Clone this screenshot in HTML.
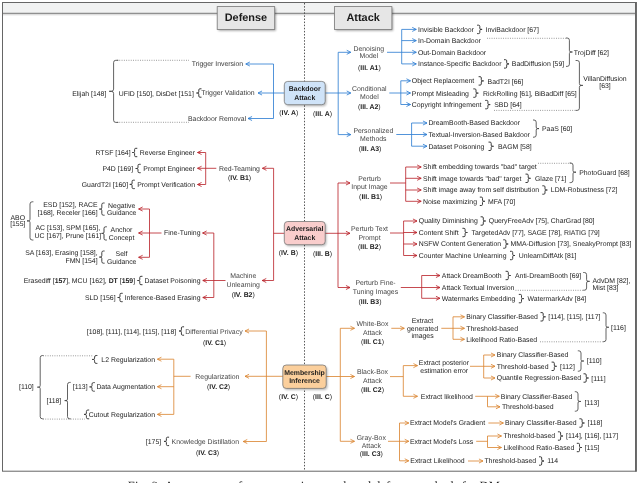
<!DOCTYPE html>
<html lang="en"><head><meta charset="utf-8"><title>Taxonomy of attack and defense methods</title>
<style>
html,body{margin:0;padding:0;background:#fff;overflow:hidden}
body{width:640px;height:483px}
svg{display:block;text-rendering:geometricPrecision;font-family:"Liberation Sans",Arial,Helvetica,sans-serif;font-size:6.9px;fill:#222222}
</style></head><body>
<svg width="640" height="483" viewBox="0 0 640 483">
<defs><filter id="bl" x="-20%" y="-20%" width="140%" height="140%"><feGaussianBlur stdDeviation="0.9"/></filter></defs>
<rect width="640" height="483" fill="#fff"/>
<rect x="2.5" y="2.5" width="633" height="468.7" fill="#fff" stroke="#666" stroke-width="1"/>
<rect x="3" y="3" width="632" height="10" fill="#f1f2f2"/>
<rect x="3" y="13.8" width="632" height="1.6" fill="#000" opacity="0.13"/>
<path d="M2.5 13.3H635.5" stroke="#666" stroke-width="0.9"/>
<path d="M636.1 2V471.7" stroke="#666" stroke-width="1.7"/>
<path d="M304.5 3V471" stroke="#444" stroke-width="0.9" stroke-dasharray="1.5 1.6"/>
<rect x="218.40" y="8.00" width="57.50" height="22.80" fill="#000" opacity="0.35" filter="url(#bl)"/>
<rect x="217.20" y="6.6" width="57.50" height="22.8" fill="#e6e6e6" stroke="#777" stroke-width="0.8"/>
<text x="245.95" y="21.12" text-anchor="middle" font-weight="700" font-size="10.90" fill="#1a1a1a">Defense</text>
<rect x="335.60" y="8.00" width="57.50" height="22.80" fill="#000" opacity="0.35" filter="url(#bl)"/>
<rect x="334.40" y="6.6" width="57.50" height="22.8" fill="#e6e6e6" stroke="#777" stroke-width="0.8"/>
<text x="363.15" y="21.12" text-anchor="middle" font-weight="700" font-size="10.90" fill="#1a1a1a">Attack</text>
<path d="M284.50 93.00 L273.50 93.00" fill="none" stroke="#2678d0" stroke-width="0.80" stroke-linejoin="round"/>
<path d="M273.50 64.00 L273.50 118.50" fill="none" stroke="#2678d0" stroke-width="0.80" stroke-linejoin="round"/>
<path d="M273.50 64.00 L245.80 64.00" fill="none" stroke="#2678d0" stroke-width="0.80" stroke-linejoin="round"/>
<path d="M249.50 62.15 L245.80 64.00 L249.50 65.85" fill="none" stroke="#2678d0" stroke-width="0.80" stroke-linecap="round" stroke-linejoin="miter"/>
<path d="M273.50 93.00 L258.00 93.00" fill="none" stroke="#2678d0" stroke-width="0.80" stroke-linejoin="round"/>
<path d="M261.70 91.15 L258.00 93.00 L261.70 94.85" fill="none" stroke="#2678d0" stroke-width="0.80" stroke-linecap="round" stroke-linejoin="miter"/>
<path d="M273.50 118.50 L248.00 118.50" fill="none" stroke="#2678d0" stroke-width="0.80" stroke-linejoin="round"/>
<path d="M251.70 116.65 L248.00 118.50 L251.70 120.35" fill="none" stroke="#2678d0" stroke-width="0.80" stroke-linecap="round" stroke-linejoin="miter"/>
<path d="M325.00 93.00 L338.20 93.00" fill="none" stroke="#2678d0" stroke-width="0.80" stroke-linejoin="round"/>
<path d="M338.20 52.30 L338.20 134.60" fill="none" stroke="#2678d0" stroke-width="0.80" stroke-linejoin="round"/>
<path d="M338.20 52.30 L350.80 52.30" fill="none" stroke="#2678d0" stroke-width="0.80" stroke-linejoin="round"/>
<path d="M347.10 50.45 L350.80 52.30 L347.10 54.15" fill="none" stroke="#2678d0" stroke-width="0.80" stroke-linecap="round" stroke-linejoin="miter"/>
<path d="M338.20 93.00 L350.80 93.00" fill="none" stroke="#2678d0" stroke-width="0.80" stroke-linejoin="round"/>
<path d="M347.10 91.15 L350.80 93.00 L347.10 94.85" fill="none" stroke="#2678d0" stroke-width="0.80" stroke-linecap="round" stroke-linejoin="miter"/>
<path d="M338.20 134.60 L350.80 134.60" fill="none" stroke="#2678d0" stroke-width="0.80" stroke-linejoin="round"/>
<path d="M347.10 132.75 L350.80 134.60 L347.10 136.45" fill="none" stroke="#2678d0" stroke-width="0.80" stroke-linecap="round" stroke-linejoin="miter"/>
<path d="M387.00 52.30 L401.70 52.30" fill="none" stroke="#2678d0" stroke-width="0.80" stroke-linejoin="round"/>
<path d="M401.70 29.40 L401.70 63.90" fill="none" stroke="#2678d0" stroke-width="0.80" stroke-linejoin="round"/>
<path d="M401.70 29.40 L416.30 29.40" fill="none" stroke="#2678d0" stroke-width="0.80" stroke-linejoin="round"/>
<path d="M412.60 27.55 L416.30 29.40 L412.60 31.25" fill="none" stroke="#2678d0" stroke-width="0.80" stroke-linecap="round" stroke-linejoin="miter"/>
<path d="M401.70 40.60 L416.30 40.60" fill="none" stroke="#2678d0" stroke-width="0.80" stroke-linejoin="round"/>
<path d="M412.60 38.75 L416.30 40.60 L412.60 42.45" fill="none" stroke="#2678d0" stroke-width="0.80" stroke-linecap="round" stroke-linejoin="miter"/>
<path d="M401.70 52.30 L416.30 52.30" fill="none" stroke="#2678d0" stroke-width="0.80" stroke-linejoin="round"/>
<path d="M412.60 50.45 L416.30 52.30 L412.60 54.15" fill="none" stroke="#2678d0" stroke-width="0.80" stroke-linecap="round" stroke-linejoin="miter"/>
<path d="M401.70 63.90 L416.30 63.90" fill="none" stroke="#2678d0" stroke-width="0.80" stroke-linejoin="round"/>
<path d="M412.60 62.05 L416.30 63.90 L412.60 65.75" fill="none" stroke="#2678d0" stroke-width="0.80" stroke-linecap="round" stroke-linejoin="miter"/>
<path d="M389.30 93.00 L400.80 93.00" fill="none" stroke="#2678d0" stroke-width="0.80" stroke-linejoin="round"/>
<path d="M400.80 80.80 L400.80 104.50" fill="none" stroke="#2678d0" stroke-width="0.80" stroke-linejoin="round"/>
<path d="M400.80 80.80 L410.50 80.80" fill="none" stroke="#2678d0" stroke-width="0.80" stroke-linejoin="round"/>
<path d="M406.80 78.95 L410.50 80.80 L406.80 82.65" fill="none" stroke="#2678d0" stroke-width="0.80" stroke-linecap="round" stroke-linejoin="miter"/>
<path d="M400.80 93.00 L410.50 93.00" fill="none" stroke="#2678d0" stroke-width="0.80" stroke-linejoin="round"/>
<path d="M406.80 91.15 L410.50 93.00 L406.80 94.85" fill="none" stroke="#2678d0" stroke-width="0.80" stroke-linecap="round" stroke-linejoin="miter"/>
<path d="M400.80 104.50 L410.50 104.50" fill="none" stroke="#2678d0" stroke-width="0.80" stroke-linejoin="round"/>
<path d="M406.80 102.65 L410.50 104.50 L406.80 106.35" fill="none" stroke="#2678d0" stroke-width="0.80" stroke-linecap="round" stroke-linejoin="miter"/>
<path d="M396.30 134.50 L411.60 134.50" fill="none" stroke="#2678d0" stroke-width="0.80" stroke-linejoin="round"/>
<path d="M411.60 123.00 L411.60 146.20" fill="none" stroke="#2678d0" stroke-width="0.80" stroke-linejoin="round"/>
<path d="M411.60 123.00 L427.00 123.00" fill="none" stroke="#2678d0" stroke-width="0.80" stroke-linejoin="round"/>
<path d="M423.30 121.15 L427.00 123.00 L423.30 124.85" fill="none" stroke="#2678d0" stroke-width="0.80" stroke-linecap="round" stroke-linejoin="miter"/>
<path d="M411.60 134.50 L427.00 134.50" fill="none" stroke="#2678d0" stroke-width="0.80" stroke-linejoin="round"/>
<path d="M423.30 132.65 L427.00 134.50 L423.30 136.35" fill="none" stroke="#2678d0" stroke-width="0.80" stroke-linecap="round" stroke-linejoin="miter"/>
<path d="M411.60 146.20 L427.00 146.20" fill="none" stroke="#2678d0" stroke-width="0.80" stroke-linejoin="round"/>
<path d="M423.30 144.35 L427.00 146.20 L423.30 148.05" fill="none" stroke="#2678d0" stroke-width="0.80" stroke-linecap="round" stroke-linejoin="miter"/>
<path d="M284.50 233.30 L273.60 233.30" fill="none" stroke="#b81d24" stroke-width="0.80" stroke-linejoin="round"/>
<path d="M273.60 168.30 L273.60 280.50" fill="none" stroke="#b81d24" stroke-width="0.80" stroke-linejoin="round"/>
<path d="M273.60 168.30 L262.40 168.30" fill="none" stroke="#b81d24" stroke-width="0.80" stroke-linejoin="round"/>
<path d="M266.10 166.45 L262.40 168.30 L266.10 170.15" fill="none" stroke="#b81d24" stroke-width="0.80" stroke-linecap="round" stroke-linejoin="miter"/>
<path d="M273.60 280.50 L262.20 280.50" fill="none" stroke="#b81d24" stroke-width="0.80" stroke-linejoin="round"/>
<path d="M265.90 278.65 L262.20 280.50 L265.90 282.35" fill="none" stroke="#b81d24" stroke-width="0.80" stroke-linecap="round" stroke-linejoin="miter"/>
<path d="M216.30 168.30 L205.70 168.30" fill="none" stroke="#b81d24" stroke-width="0.80" stroke-linejoin="round"/>
<path d="M205.70 152.50 L205.70 184.50" fill="none" stroke="#b81d24" stroke-width="0.80" stroke-linejoin="round"/>
<path d="M205.70 152.50 L197.50 152.50" fill="none" stroke="#b81d24" stroke-width="0.80" stroke-linejoin="round"/>
<path d="M201.20 150.65 L197.50 152.50 L201.20 154.35" fill="none" stroke="#b81d24" stroke-width="0.80" stroke-linecap="round" stroke-linejoin="miter"/>
<path d="M205.70 168.30 L197.50 168.30" fill="none" stroke="#b81d24" stroke-width="0.80" stroke-linejoin="round"/>
<path d="M201.20 166.45 L197.50 168.30 L201.20 170.15" fill="none" stroke="#b81d24" stroke-width="0.80" stroke-linecap="round" stroke-linejoin="miter"/>
<path d="M205.70 184.50 L197.50 184.50" fill="none" stroke="#b81d24" stroke-width="0.80" stroke-linejoin="round"/>
<path d="M201.20 182.65 L197.50 184.50 L201.20 186.35" fill="none" stroke="#b81d24" stroke-width="0.80" stroke-linecap="round" stroke-linejoin="miter"/>
<path d="M225.50 280.50 L213.80 280.50" fill="none" stroke="#b81d24" stroke-width="0.80" stroke-linejoin="round"/>
<path d="M213.80 233.00 L213.80 297.50" fill="none" stroke="#b81d24" stroke-width="0.80" stroke-linejoin="round"/>
<path d="M213.80 233.00 L202.60 233.00" fill="none" stroke="#b81d24" stroke-width="0.80" stroke-linejoin="round"/>
<path d="M206.30 231.15 L202.60 233.00 L206.30 234.85" fill="none" stroke="#b81d24" stroke-width="0.80" stroke-linecap="round" stroke-linejoin="miter"/>
<path d="M213.80 280.50 L202.80 280.50" fill="none" stroke="#b81d24" stroke-width="0.80" stroke-linejoin="round"/>
<path d="M206.50 278.65 L202.80 280.50 L206.50 282.35" fill="none" stroke="#b81d24" stroke-width="0.80" stroke-linecap="round" stroke-linejoin="miter"/>
<path d="M213.80 297.50 L202.80 297.50" fill="none" stroke="#b81d24" stroke-width="0.80" stroke-linejoin="round"/>
<path d="M206.50 295.65 L202.80 297.50 L206.50 299.35" fill="none" stroke="#b81d24" stroke-width="0.80" stroke-linecap="round" stroke-linejoin="miter"/>
<path d="M161.50 233.00 L149.50 233.00" fill="none" stroke="#b81d24" stroke-width="0.80" stroke-linejoin="round"/>
<path d="M149.50 209.00 L149.50 257.30" fill="none" stroke="#b81d24" stroke-width="0.80" stroke-linejoin="round"/>
<path d="M149.50 209.00 L138.60 209.00" fill="none" stroke="#b81d24" stroke-width="0.80" stroke-linejoin="round"/>
<path d="M142.30 207.15 L138.60 209.00 L142.30 210.85" fill="none" stroke="#b81d24" stroke-width="0.80" stroke-linecap="round" stroke-linejoin="miter"/>
<path d="M149.50 233.00 L138.60 233.00" fill="none" stroke="#b81d24" stroke-width="0.80" stroke-linejoin="round"/>
<path d="M142.30 231.15 L138.60 233.00 L142.30 234.85" fill="none" stroke="#b81d24" stroke-width="0.80" stroke-linecap="round" stroke-linejoin="miter"/>
<path d="M149.50 257.30 L138.60 257.30" fill="none" stroke="#b81d24" stroke-width="0.80" stroke-linejoin="round"/>
<path d="M142.30 255.45 L138.60 257.30 L142.30 259.15" fill="none" stroke="#b81d24" stroke-width="0.80" stroke-linecap="round" stroke-linejoin="miter"/>
<path d="M325.00 233.30 L338.00 233.30" fill="none" stroke="#b81d24" stroke-width="0.80" stroke-linejoin="round"/>
<path d="M338.00 183.00 L338.00 287.50" fill="none" stroke="#b81d24" stroke-width="0.80" stroke-linejoin="round"/>
<path d="M338.00 183.00 L350.00 183.00" fill="none" stroke="#b81d24" stroke-width="0.80" stroke-linejoin="round"/>
<path d="M346.30 181.15 L350.00 183.00 L346.30 184.85" fill="none" stroke="#b81d24" stroke-width="0.80" stroke-linecap="round" stroke-linejoin="miter"/>
<path d="M338.00 233.30 L350.00 233.30" fill="none" stroke="#b81d24" stroke-width="0.80" stroke-linejoin="round"/>
<path d="M346.30 231.45 L350.00 233.30 L346.30 235.15" fill="none" stroke="#b81d24" stroke-width="0.80" stroke-linecap="round" stroke-linejoin="miter"/>
<path d="M338.00 287.50 L350.00 287.50" fill="none" stroke="#b81d24" stroke-width="0.80" stroke-linejoin="round"/>
<path d="M346.30 285.65 L350.00 287.50 L346.30 289.35" fill="none" stroke="#b81d24" stroke-width="0.80" stroke-linecap="round" stroke-linejoin="miter"/>
<path d="M390.00 183.00 L405.70 183.00" fill="none" stroke="#b81d24" stroke-width="0.80" stroke-linejoin="round"/>
<path d="M405.70 167.00 L405.70 201.30" fill="none" stroke="#b81d24" stroke-width="0.80" stroke-linejoin="round"/>
<path d="M405.70 167.00 L421.20 167.00" fill="none" stroke="#b81d24" stroke-width="0.80" stroke-linejoin="round"/>
<path d="M417.50 165.15 L421.20 167.00 L417.50 168.85" fill="none" stroke="#b81d24" stroke-width="0.80" stroke-linecap="round" stroke-linejoin="miter"/>
<path d="M405.70 178.30 L421.20 178.30" fill="none" stroke="#b81d24" stroke-width="0.80" stroke-linejoin="round"/>
<path d="M417.50 176.45 L421.20 178.30 L417.50 180.15" fill="none" stroke="#b81d24" stroke-width="0.80" stroke-linecap="round" stroke-linejoin="miter"/>
<path d="M405.70 190.00 L421.20 190.00" fill="none" stroke="#b81d24" stroke-width="0.80" stroke-linejoin="round"/>
<path d="M417.50 188.15 L421.20 190.00 L417.50 191.85" fill="none" stroke="#b81d24" stroke-width="0.80" stroke-linecap="round" stroke-linejoin="miter"/>
<path d="M405.70 201.30 L421.20 201.30" fill="none" stroke="#b81d24" stroke-width="0.80" stroke-linejoin="round"/>
<path d="M417.50 199.45 L421.20 201.30 L417.50 203.15" fill="none" stroke="#b81d24" stroke-width="0.80" stroke-linecap="round" stroke-linejoin="miter"/>
<path d="M390.00 233.00 L403.60 233.00" fill="none" stroke="#b81d24" stroke-width="0.80" stroke-linejoin="round"/>
<path d="M403.60 221.00 L403.60 255.50" fill="none" stroke="#b81d24" stroke-width="0.80" stroke-linejoin="round"/>
<path d="M403.60 221.00 L417.00 221.00" fill="none" stroke="#b81d24" stroke-width="0.80" stroke-linejoin="round"/>
<path d="M413.30 219.15 L417.00 221.00 L413.30 222.85" fill="none" stroke="#b81d24" stroke-width="0.80" stroke-linecap="round" stroke-linejoin="miter"/>
<path d="M403.60 232.50 L417.00 232.50" fill="none" stroke="#b81d24" stroke-width="0.80" stroke-linejoin="round"/>
<path d="M413.30 230.65 L417.00 232.50 L413.30 234.35" fill="none" stroke="#b81d24" stroke-width="0.80" stroke-linecap="round" stroke-linejoin="miter"/>
<path d="M403.60 244.00 L417.00 244.00" fill="none" stroke="#b81d24" stroke-width="0.80" stroke-linejoin="round"/>
<path d="M413.30 242.15 L417.00 244.00 L413.30 245.85" fill="none" stroke="#b81d24" stroke-width="0.80" stroke-linecap="round" stroke-linejoin="miter"/>
<path d="M403.60 255.50 L417.00 255.50" fill="none" stroke="#b81d24" stroke-width="0.80" stroke-linejoin="round"/>
<path d="M413.30 253.65 L417.00 255.50 L413.30 257.35" fill="none" stroke="#b81d24" stroke-width="0.80" stroke-linecap="round" stroke-linejoin="miter"/>
<path d="M400.80 287.50 L421.70 287.50" fill="none" stroke="#b81d24" stroke-width="0.80" stroke-linejoin="round"/>
<path d="M421.70 275.50 L421.70 298.30" fill="none" stroke="#b81d24" stroke-width="0.80" stroke-linejoin="round"/>
<path d="M421.70 275.50 L440.00 275.50" fill="none" stroke="#b81d24" stroke-width="0.80" stroke-linejoin="round"/>
<path d="M436.30 273.65 L440.00 275.50 L436.30 277.35" fill="none" stroke="#b81d24" stroke-width="0.80" stroke-linecap="round" stroke-linejoin="miter"/>
<path d="M421.70 287.50 L440.00 287.50" fill="none" stroke="#b81d24" stroke-width="0.80" stroke-linejoin="round"/>
<path d="M436.30 285.65 L440.00 287.50 L436.30 289.35" fill="none" stroke="#b81d24" stroke-width="0.80" stroke-linecap="round" stroke-linejoin="miter"/>
<path d="M421.70 298.30 L440.00 298.30" fill="none" stroke="#b81d24" stroke-width="0.80" stroke-linejoin="round"/>
<path d="M436.30 296.45 L440.00 298.30 L436.30 300.15" fill="none" stroke="#b81d24" stroke-width="0.80" stroke-linecap="round" stroke-linejoin="miter"/>
<path d="M283.00 376.30 L266.40 376.30" fill="none" stroke="#d9822b" stroke-width="0.80" stroke-linejoin="round"/>
<path d="M266.40 331.00 L266.40 441.50" fill="none" stroke="#d9822b" stroke-width="0.80" stroke-linejoin="round"/>
<path d="M266.40 331.00 L245.00 331.00" fill="none" stroke="#d9822b" stroke-width="0.80" stroke-linejoin="round"/>
<path d="M248.70 329.15 L245.00 331.00 L248.70 332.85" fill="none" stroke="#d9822b" stroke-width="0.80" stroke-linecap="round" stroke-linejoin="miter"/>
<path d="M266.40 376.30 L245.00 376.30" fill="none" stroke="#d9822b" stroke-width="0.80" stroke-linejoin="round"/>
<path d="M248.70 374.45 L245.00 376.30 L248.70 378.15" fill="none" stroke="#d9822b" stroke-width="0.80" stroke-linecap="round" stroke-linejoin="miter"/>
<path d="M266.40 441.50 L243.20 441.50" fill="none" stroke="#d9822b" stroke-width="0.80" stroke-linejoin="round"/>
<path d="M246.90 439.65 L243.20 441.50 L246.90 443.35" fill="none" stroke="#d9822b" stroke-width="0.80" stroke-linecap="round" stroke-linejoin="miter"/>
<path d="M190.60 376.30 L173.80 376.30" fill="none" stroke="#d9822b" stroke-width="0.80" stroke-linejoin="round"/>
<path d="M173.80 359.20 L173.80 414.40" fill="none" stroke="#d9822b" stroke-width="0.80" stroke-linejoin="round"/>
<path d="M173.80 359.20 L157.40 359.20" fill="none" stroke="#d9822b" stroke-width="0.80" stroke-linejoin="round"/>
<path d="M161.10 357.35 L157.40 359.20 L161.10 361.05" fill="none" stroke="#d9822b" stroke-width="0.80" stroke-linecap="round" stroke-linejoin="miter"/>
<path d="M173.80 386.70 L157.40 386.70" fill="none" stroke="#d9822b" stroke-width="0.80" stroke-linejoin="round"/>
<path d="M161.10 384.85 L157.40 386.70 L161.10 388.55" fill="none" stroke="#d9822b" stroke-width="0.80" stroke-linecap="round" stroke-linejoin="miter"/>
<path d="M173.80 414.40 L157.40 414.40" fill="none" stroke="#d9822b" stroke-width="0.80" stroke-linejoin="round"/>
<path d="M161.10 412.55 L157.40 414.40 L161.10 416.25" fill="none" stroke="#d9822b" stroke-width="0.80" stroke-linecap="round" stroke-linejoin="miter"/>
<path d="M326.00 376.50 L340.30 376.50" fill="none" stroke="#d9822b" stroke-width="0.80" stroke-linejoin="round"/>
<path d="M340.30 328.30 L340.30 441.30" fill="none" stroke="#d9822b" stroke-width="0.80" stroke-linejoin="round"/>
<path d="M340.30 328.30 L354.50 328.30" fill="none" stroke="#d9822b" stroke-width="0.80" stroke-linejoin="round"/>
<path d="M350.80 326.45 L354.50 328.30 L350.80 330.15" fill="none" stroke="#d9822b" stroke-width="0.80" stroke-linecap="round" stroke-linejoin="miter"/>
<path d="M340.30 376.50 L354.50 376.50" fill="none" stroke="#d9822b" stroke-width="0.80" stroke-linejoin="round"/>
<path d="M350.80 374.65 L354.50 376.50 L350.80 378.35" fill="none" stroke="#d9822b" stroke-width="0.80" stroke-linecap="round" stroke-linejoin="miter"/>
<path d="M340.30 441.30 L354.50 441.30" fill="none" stroke="#d9822b" stroke-width="0.80" stroke-linejoin="round"/>
<path d="M350.80 439.45 L354.50 441.30 L350.80 443.15" fill="none" stroke="#d9822b" stroke-width="0.80" stroke-linecap="round" stroke-linejoin="miter"/>
<path d="M391.30 328.30 L404.30 328.30" fill="none" stroke="#d9822b" stroke-width="0.80" stroke-linejoin="round"/>
<path d="M400.60 326.45 L404.30 328.30 L400.60 330.15" fill="none" stroke="#d9822b" stroke-width="0.80" stroke-linecap="round" stroke-linejoin="miter"/>
<path d="M441.30 328.30 L453.00 328.30" fill="none" stroke="#d9822b" stroke-width="0.80" stroke-linejoin="round"/>
<path d="M453.00 316.80 L453.00 339.30" fill="none" stroke="#d9822b" stroke-width="0.80" stroke-linejoin="round"/>
<path d="M453.00 316.80 L464.50 316.80" fill="none" stroke="#d9822b" stroke-width="0.80" stroke-linejoin="round"/>
<path d="M460.80 314.95 L464.50 316.80 L460.80 318.65" fill="none" stroke="#d9822b" stroke-width="0.80" stroke-linecap="round" stroke-linejoin="miter"/>
<path d="M453.00 328.30 L464.50 328.30" fill="none" stroke="#d9822b" stroke-width="0.80" stroke-linejoin="round"/>
<path d="M460.80 326.45 L464.50 328.30 L460.80 330.15" fill="none" stroke="#d9822b" stroke-width="0.80" stroke-linecap="round" stroke-linejoin="miter"/>
<path d="M453.00 339.30 L464.50 339.30" fill="none" stroke="#d9822b" stroke-width="0.80" stroke-linejoin="round"/>
<path d="M460.80 337.45 L464.50 339.30 L460.80 341.15" fill="none" stroke="#d9822b" stroke-width="0.80" stroke-linecap="round" stroke-linejoin="miter"/>
<path d="M390.00 376.60 L403.30 376.60" fill="none" stroke="#d9822b" stroke-width="0.80" stroke-linejoin="round"/>
<path d="M403.30 365.60 L403.30 396.30" fill="none" stroke="#d9822b" stroke-width="0.80" stroke-linejoin="round"/>
<path d="M403.30 365.60 L417.50 365.60" fill="none" stroke="#d9822b" stroke-width="0.80" stroke-linejoin="round"/>
<path d="M413.80 363.75 L417.50 365.60 L413.80 367.45" fill="none" stroke="#d9822b" stroke-width="0.80" stroke-linecap="round" stroke-linejoin="miter"/>
<path d="M403.30 396.30 L417.50 396.30" fill="none" stroke="#d9822b" stroke-width="0.80" stroke-linejoin="round"/>
<path d="M413.80 394.45 L417.50 396.30 L413.80 398.15" fill="none" stroke="#d9822b" stroke-width="0.80" stroke-linecap="round" stroke-linejoin="miter"/>
<path d="M470.00 366.30 L483.70 366.30" fill="none" stroke="#d9822b" stroke-width="0.80" stroke-linejoin="round"/>
<path d="M483.70 355.00 L483.70 378.00" fill="none" stroke="#d9822b" stroke-width="0.80" stroke-linejoin="round"/>
<path d="M483.70 355.00 L495.00 355.00" fill="none" stroke="#d9822b" stroke-width="0.80" stroke-linejoin="round"/>
<path d="M491.30 353.15 L495.00 355.00 L491.30 356.85" fill="none" stroke="#d9822b" stroke-width="0.80" stroke-linecap="round" stroke-linejoin="miter"/>
<path d="M483.70 366.30 L495.00 366.30" fill="none" stroke="#d9822b" stroke-width="0.80" stroke-linejoin="round"/>
<path d="M491.30 364.45 L495.00 366.30 L491.30 368.15" fill="none" stroke="#d9822b" stroke-width="0.80" stroke-linecap="round" stroke-linejoin="miter"/>
<path d="M483.70 378.00 L495.00 378.00" fill="none" stroke="#d9822b" stroke-width="0.80" stroke-linejoin="round"/>
<path d="M491.30 376.15 L495.00 378.00 L491.30 379.85" fill="none" stroke="#d9822b" stroke-width="0.80" stroke-linecap="round" stroke-linejoin="miter"/>
<path d="M475.20 396.30 L499.30 396.30" fill="none" stroke="#d9822b" stroke-width="0.80" stroke-linejoin="round"/>
<path d="M495.60 394.45 L499.30 396.30 L495.60 398.15" fill="none" stroke="#d9822b" stroke-width="0.80" stroke-linecap="round" stroke-linejoin="miter"/>
<path d="M487.50 396.30 L487.50 406.80" fill="none" stroke="#d9822b" stroke-width="0.80" stroke-linejoin="round"/>
<path d="M487.50 406.80 L500.00 406.80" fill="none" stroke="#d9822b" stroke-width="0.80" stroke-linejoin="round"/>
<path d="M496.30 404.95 L500.00 406.80 L496.30 408.65" fill="none" stroke="#d9822b" stroke-width="0.80" stroke-linecap="round" stroke-linejoin="miter"/>
<path d="M388.00 441.30 L399.50 441.30" fill="none" stroke="#d9822b" stroke-width="0.80" stroke-linejoin="round"/>
<path d="M399.50 423.00 L399.50 460.80" fill="none" stroke="#d9822b" stroke-width="0.80" stroke-linejoin="round"/>
<path d="M399.50 423.00 L408.80 423.00" fill="none" stroke="#d9822b" stroke-width="0.80" stroke-linejoin="round"/>
<path d="M405.10 421.15 L408.80 423.00 L405.10 424.85" fill="none" stroke="#d9822b" stroke-width="0.80" stroke-linecap="round" stroke-linejoin="miter"/>
<path d="M399.50 441.30 L408.80 441.30" fill="none" stroke="#d9822b" stroke-width="0.80" stroke-linejoin="round"/>
<path d="M405.10 439.45 L408.80 441.30 L405.10 443.15" fill="none" stroke="#d9822b" stroke-width="0.80" stroke-linecap="round" stroke-linejoin="miter"/>
<path d="M399.50 460.80 L408.80 460.80" fill="none" stroke="#d9822b" stroke-width="0.80" stroke-linejoin="round"/>
<path d="M405.10 458.95 L408.80 460.80 L405.10 462.65" fill="none" stroke="#d9822b" stroke-width="0.80" stroke-linecap="round" stroke-linejoin="miter"/>
<path d="M488.40 423.00 L503.40 423.00" fill="none" stroke="#d9822b" stroke-width="0.80" stroke-linejoin="round"/>
<path d="M499.70 421.15 L503.40 423.00 L499.70 424.85" fill="none" stroke="#d9822b" stroke-width="0.80" stroke-linecap="round" stroke-linejoin="miter"/>
<path d="M476.20 441.30 L487.50 441.30" fill="none" stroke="#d9822b" stroke-width="0.80" stroke-linejoin="round"/>
<path d="M487.50 436.00 L487.50 447.50" fill="none" stroke="#d9822b" stroke-width="0.80" stroke-linejoin="round"/>
<path d="M487.50 436.00 L501.50 436.00" fill="none" stroke="#d9822b" stroke-width="0.80" stroke-linejoin="round"/>
<path d="M497.80 434.15 L501.50 436.00 L497.80 437.85" fill="none" stroke="#d9822b" stroke-width="0.80" stroke-linecap="round" stroke-linejoin="miter"/>
<path d="M487.50 447.50 L501.50 447.50" fill="none" stroke="#d9822b" stroke-width="0.80" stroke-linejoin="round"/>
<path d="M497.80 445.65 L501.50 447.50 L497.80 449.35" fill="none" stroke="#d9822b" stroke-width="0.80" stroke-linecap="round" stroke-linejoin="miter"/>
<path d="M468.00 461.00 L483.00 461.00" fill="none" stroke="#d9822b" stroke-width="0.80" stroke-linejoin="round"/>
<path d="M479.30 459.15 L483.00 461.00 L479.30 462.85" fill="none" stroke="#d9822b" stroke-width="0.80" stroke-linecap="round" stroke-linejoin="miter"/>
<rect x="285.60" y="82.90" width="40.90" height="23.30" rx="3.4" fill="#000" opacity="0.28" filter="url(#bl)"/>
<rect x="284.30" y="81.40" width="40.90" height="23.30" rx="3.4" fill="#cfe3f8" stroke="#777" stroke-width="0.8"/>
<text x="304.75" y="90.93" text-anchor="middle" font-weight="700" fill="#1c1c1c">Backdoor</text>
<text x="304.75" y="99.53" text-anchor="middle" font-weight="700" fill="#1c1c1c">Attack</text>
<rect x="285.60" y="223.00" width="40.90" height="23.20" rx="3.4" fill="#000" opacity="0.28" filter="url(#bl)"/>
<rect x="284.30" y="221.50" width="40.90" height="23.20" rx="3.4" fill="#f9cdcc" stroke="#777" stroke-width="0.8"/>
<text x="304.75" y="230.98" text-anchor="middle" font-weight="700" fill="#1c1c1c">Adversarial</text>
<text x="304.75" y="239.58" text-anchor="middle" font-weight="700" fill="#1c1c1c">Attack</text>
<rect x="284.10" y="366.50" width="43.40" height="23.40" rx="3.4" fill="#000" opacity="0.28" filter="url(#bl)"/>
<rect x="282.80" y="365.00" width="43.40" height="23.40" rx="3.4" fill="#fbcf9c" stroke="#777" stroke-width="0.8"/>
<text x="304.50" y="374.58" text-anchor="middle" font-weight="700" fill="#1c1c1c">Membership</text>
<text x="304.50" y="383.18" text-anchor="middle" font-weight="700" fill="#1c1c1c">Inference</text>
<text x="288.80" y="115.28" text-anchor="middle">(<tspan font-weight="700">IV. A</tspan>)</text>
<text x="322.50" y="115.98" text-anchor="middle">(<tspan font-weight="700">III. A</tspan>)</text>
<text x="288.30" y="254.98" text-anchor="middle">(<tspan font-weight="700">IV. B</tspan>)</text>
<text x="322.50" y="255.68" text-anchor="middle">(<tspan font-weight="700">III. B</tspan>)</text>
<text x="288.50" y="398.68" text-anchor="middle">(<tspan font-weight="700">IV. C</tspan>)</text>
<text x="322.40" y="399.28" text-anchor="middle">(<tspan font-weight="700">III. C</tspan>)</text>
<text x="243.20" y="65.98" text-anchor="end" fill="#383838">Trigger Inversion</text>
<text x="254.60" y="95.08" text-anchor="end" fill="#383838">Trigger Validation</text>
<text x="246.20" y="120.78" text-anchor="end" fill="#383838">Backdoor Removal</text>
<text x="193.80" y="95.58" text-anchor="end">UFID [150], DisDet [151]</text>
<path d="M201.10 88.80 L199.95 88.80 Q198.80 88.80 198.80 89.95 L198.80 91.85 Q198.80 93.00 197.65 93.00 L196.50 93.00 L197.65 93.00 Q198.80 93.00 198.80 94.15 L198.80 96.05 Q198.80 97.20 199.95 97.20 L201.10 97.20" fill="none" stroke="#3a3a3a" stroke-width="1.00" stroke-linecap="round"/>
<text x="106.30" y="95.68" text-anchor="end">Elijah [148]</text>
<path d="M118.00 60.30 L115.80 60.30 Q113.60 60.30 113.60 62.50 L113.60 89.10 Q113.60 91.30 111.40 91.30 L109.20 91.30 L111.40 91.30 Q113.60 91.30 113.60 93.50 L113.60 120.20 Q113.60 122.40 115.80 122.40 L118.00 122.40" fill="none" stroke="#3a3a3a" stroke-width="0.80" stroke-linecap="round"/>
<path d="M117.00 60.30H189.00" fill="none" stroke="#555" stroke-width="0.65" stroke-dasharray="0.9 1.4"/>
<path d="M117.00 122.30H189.00" fill="none" stroke="#555" stroke-width="0.65" stroke-dasharray="0.9 1.4"/>
<text x="239.40" y="170.78" text-anchor="middle" fill="#333">Red-Teaming</text>
<text x="239.50" y="180.48" text-anchor="middle">(<tspan font-weight="700">IV. B1</tspan>)</text>
<text x="195.00" y="155.08" text-anchor="end">Reverse Engineer</text>
<text x="195.00" y="170.98" text-anchor="end">Prompt Engineer</text>
<text x="195.00" y="186.98" text-anchor="end">Prompt Verification</text>
<text x="130.60" y="155.08" text-anchor="end">RTSF [164]</text>
<path d="M136.90 148.30 L135.75 148.30 Q134.60 148.30 134.60 149.45 L134.60 151.35 Q134.60 152.50 133.45 152.50 L132.30 152.50 L133.45 152.50 Q134.60 152.50 134.60 153.65 L134.60 155.55 Q134.60 156.70 135.75 156.70 L136.90 156.70" fill="none" stroke="#3a3a3a" stroke-width="1.00" stroke-linecap="round"/>
<text x="133.10" y="171.08" text-anchor="end">P4D [169]</text>
<path d="M140.30 164.30 L139.15 164.30 Q138.00 164.30 138.00 165.45 L138.00 167.35 Q138.00 168.50 136.85 168.50 L135.70 168.50 L136.85 168.50 Q138.00 168.50 138.00 169.65 L138.00 171.55 Q138.00 172.70 139.15 172.70 L140.30 172.70" fill="none" stroke="#3a3a3a" stroke-width="1.00" stroke-linecap="round"/>
<text x="128.10" y="186.88" text-anchor="end">GuardT2I [160]</text>
<path d="M134.40 180.20 L133.25 180.20 Q132.10 180.20 132.10 181.35 L132.10 183.25 Q132.10 184.40 130.95 184.40 L129.80 184.40 L130.95 184.40 Q132.10 184.40 132.10 185.55 L132.10 187.45 Q132.10 188.60 133.25 188.60 L134.40 188.60" fill="none" stroke="#3a3a3a" stroke-width="1.00" stroke-linecap="round"/>
<text x="243.20" y="278.28" text-anchor="middle" fill="#454545">Machine</text>
<text x="243.20" y="286.68" text-anchor="middle" fill="#454545">Unlearning</text>
<text x="243.20" y="297.48" text-anchor="middle">(<tspan font-weight="700">IV. B2</tspan>)</text>
<text x="200.50" y="235.08" text-anchor="end">Fine-Tuning</text>
<text x="200.50" y="282.58" text-anchor="end">Dataset Poisoning</text>
<text x="200.50" y="300.08" text-anchor="end">Inference-Based Erasing</text>
<text x="121.70" y="208.08" text-anchor="middle">Negative</text>
<text x="121.70" y="215.08" text-anchor="middle">Guidance</text>
<text x="121.50" y="232.48" text-anchor="middle">Anchor</text>
<text x="121.50" y="239.68" text-anchor="middle">Concept</text>
<text x="121.50" y="256.28" text-anchor="middle">Self</text>
<text x="121.70" y="263.68" text-anchor="middle">Guidance</text>
<path d="M104.20 203.00 L103.40 203.00 Q101.80 203.00 101.80 204.60 L101.80 207.78 Q101.80 209.10 100.48 209.10 L99.40 209.10 L100.48 209.10 Q101.80 209.10 101.80 210.42 L101.80 213.60 Q101.80 215.20 103.40 215.20 L104.20 215.20" fill="none" stroke="#3a3a3a" stroke-width="0.95" stroke-linecap="round"/>
<path d="M106.40 226.80 L105.60 226.80 Q104.00 226.80 104.00 228.40 L104.00 232.08 Q104.00 233.40 102.68 233.40 L101.60 233.40 L102.68 233.40 Q104.00 233.40 104.00 234.72 L104.00 238.40 Q104.00 240.00 105.60 240.00 L106.40 240.00" fill="none" stroke="#3a3a3a" stroke-width="0.95" stroke-linecap="round"/>
<path d="M104.20 251.00 L103.40 251.00 Q101.80 251.00 101.80 252.60 L101.80 255.78 Q101.80 257.10 100.48 257.10 L99.40 257.10 L100.48 257.10 Q101.80 257.10 101.80 258.42 L101.80 261.60 Q101.80 263.20 103.40 263.20 L104.20 263.20" fill="none" stroke="#3a3a3a" stroke-width="0.95" stroke-linecap="round"/>
<text x="97.60" y="207.08" text-anchor="end">ESD [152], RACE</text>
<text x="97.60" y="215.08" text-anchor="end">[168], Receler [166]</text>
<text x="100.20" y="230.08" text-anchor="end">AC [153], SPM [165],</text>
<text x="101.20" y="238.08" text-anchor="end">UC [167], Prune [161]</text>
<text x="97.60" y="255.18" text-anchor="end">SA [163], Erasing [158],</text>
<text x="97.60" y="263.28" text-anchor="end">FMN [154]</text>
<text x="17.80" y="219.58" text-anchor="middle">ABO</text>
<text x="17.80" y="226.38" text-anchor="middle">[155]</text>
<path d="M33.00 201.80 L32.20 201.80 Q30.00 201.80 30.00 204.00 L30.00 219.25 Q30.00 220.90 28.35 220.90 L27.00 220.90 L28.35 220.90 Q30.00 220.90 30.00 222.55 L30.00 237.80 Q30.00 240.00 32.20 240.00 L33.00 240.00" fill="none" stroke="#3a3a3a" stroke-width="0.80" stroke-linecap="round"/>
<text x="135.10" y="282.98" text-anchor="end">Erasediff [<tspan font-weight="700">157</tspan>], MCU [162], <tspan font-weight="700">DT</tspan> [<tspan font-weight="700">159</tspan>]</text>
<path d="M142.10 276.30 L140.95 276.30 Q139.80 276.30 139.80 277.45 L139.80 279.35 Q139.80 280.50 138.65 280.50 L137.50 280.50 L138.65 280.50 Q139.80 280.50 139.80 281.65 L139.80 283.55 Q139.80 284.70 140.95 284.70 L142.10 284.70" fill="none" stroke="#3a3a3a" stroke-width="1.00" stroke-linecap="round"/>
<text x="115.60" y="300.08" text-anchor="end">SLD [156]</text>
<path d="M122.30 293.30 L121.15 293.30 Q120.00 293.30 120.00 294.45 L120.00 296.35 Q120.00 297.50 118.85 297.50 L117.70 297.50 L118.85 297.50 Q120.00 297.50 120.00 298.65 L120.00 300.55 Q120.00 301.70 121.15 301.70 L122.30 301.70" fill="none" stroke="#3a3a3a" stroke-width="1.00" stroke-linecap="round"/>
<text x="242.60" y="333.58" text-anchor="end" fill="#454545">Differential Privacy</text>
<text x="214.50" y="345.18" text-anchor="middle">(<tspan font-weight="700">IV. C1</tspan>)</text>
<path d="M183.70 326.80 L182.55 326.80 Q181.40 326.80 181.40 327.95 L181.40 329.85 Q181.40 331.00 180.25 331.00 L179.10 331.00 L180.25 331.00 Q181.40 331.00 181.40 332.15 L181.40 334.05 Q181.40 335.20 182.55 335.20 L183.70 335.20" fill="none" stroke="#3a3a3a" stroke-width="1.00" stroke-linecap="round"/>
<text x="176.20" y="333.68" text-anchor="end">[108], [111], [114], [115], [118]</text>
<text x="217.40" y="378.58" text-anchor="middle" fill="#454545">Regularization</text>
<text x="218.60" y="389.18" text-anchor="middle">(<tspan font-weight="700">IV. C2</tspan>)</text>
<text x="239.00" y="443.88" text-anchor="end" fill="#454545">Knowledge Distillation</text>
<text x="207.50" y="454.98" text-anchor="middle">(<tspan font-weight="700">IV. C3</tspan>)</text>
<path d="M168.70 437.20 L167.55 437.20 Q166.40 437.20 166.40 438.35 L166.40 440.25 Q166.40 441.40 165.25 441.40 L164.10 441.40 L165.25 441.40 Q166.40 441.40 166.40 442.55 L166.40 444.45 Q166.40 445.60 167.55 445.60 L168.70 445.60" fill="none" stroke="#3a3a3a" stroke-width="1.00" stroke-linecap="round"/>
<text x="161.20" y="443.88" text-anchor="end">[175]</text>
<text x="155.00" y="361.78" text-anchor="end">L2 Regularization</text>
<text x="155.00" y="389.28" text-anchor="end">Data Augmentation</text>
<text x="155.00" y="416.78" text-anchor="end">Cutout Regularization</text>
<path d="M97.00 355.50 L96.10 355.50 Q94.60 355.50 94.60 357.00 L94.60 358.13 Q94.60 359.45 93.28 359.45 L92.20 359.45 L93.28 359.45 Q94.60 359.45 94.60 360.77 L94.60 361.90 Q94.60 363.40 96.10 363.40 L97.00 363.40" fill="none" stroke="#3a3a3a" stroke-width="0.95" stroke-linecap="round"/>
<path d="M94.40 382.60 L93.50 382.60 Q92.00 382.60 92.00 384.10 L92.00 385.58 Q92.00 386.90 90.68 386.90 L89.60 386.90 L90.68 386.90 Q92.00 386.90 92.00 388.22 L92.00 389.70 Q92.00 391.20 93.50 391.20 L94.40 391.20" fill="none" stroke="#3a3a3a" stroke-width="0.95" stroke-linecap="round"/>
<path d="M88.80 410.00 L87.90 410.00 Q86.40 410.00 86.40 411.50 L86.40 413.08 Q86.40 414.40 85.08 414.40 L84.00 414.40 L85.08 414.40 Q86.40 414.40 86.40 415.72 L86.40 417.30 Q86.40 418.80 87.90 418.80 L88.80 418.80" fill="none" stroke="#3a3a3a" stroke-width="0.95" stroke-linecap="round"/>
<text x="87.60" y="389.28" text-anchor="end">[113]</text>
<text x="61.30" y="402.58" text-anchor="end">[118]</text>
<path d="M70.30 382.40 L69.70 382.40 Q67.50 382.40 67.50 384.60 L67.50 399.06 Q67.50 400.60 65.96 400.60 L64.70 400.60 L65.96 400.60 Q67.50 400.60 67.50 402.14 L67.50 416.60 Q67.50 418.80 69.70 418.80 L70.30 418.80" fill="none" stroke="#3a3a3a" stroke-width="0.80" stroke-linecap="round"/>
<text x="33.80" y="389.28" text-anchor="end">[110]</text>
<path d="M43.00 355.50 L42.40 355.50 Q40.20 355.50 40.20 357.70 L40.20 385.61 Q40.20 387.15 38.66 387.15 L37.40 387.15 L38.66 387.15 Q40.20 387.15 40.20 388.69 L40.20 416.60 Q40.20 418.80 42.40 418.80 L43.00 418.80" fill="none" stroke="#3a3a3a" stroke-width="0.80" stroke-linecap="round"/>
<path d="M43.00 355.80H92.50" fill="none" stroke="#555" stroke-width="0.65" stroke-dasharray="0.9 1.4"/>
<path d="M43.00 419.10H85.00" fill="none" stroke="#555" stroke-width="0.65" stroke-dasharray="0.9 1.4"/>
<text x="368.80" y="50.78" text-anchor="middle" fill="#454545">Denoising</text>
<text x="368.80" y="58.28" text-anchor="middle" fill="#454545">Model</text>
<text x="369.40" y="69.68" text-anchor="middle">(<tspan font-weight="700">III. A1</tspan>)</text>
<text x="418.00" y="31.88">Invisible Backdoor</text>
<text x="418.00" y="43.08">In-Domain Backdoor</text>
<text x="418.00" y="54.78">Out-Domain Backdoor</text>
<text x="418.00" y="66.38">Instance-Specific Backdoor</text>
<path d="M477.50 25.20 L478.65 25.20 Q479.80 25.20 479.80 26.35 L479.80 28.25 Q479.80 29.40 480.95 29.40 L482.10 29.40 L480.95 29.40 Q479.80 29.40 479.80 30.55 L479.80 32.45 Q479.80 33.60 478.65 33.60 L477.50 33.60" fill="none" stroke="#3a3a3a" stroke-width="1.00" stroke-linecap="round"/>
<text x="485.60" y="31.88">InviBackdoor [67]</text>
<path d="M504.40 59.70 L505.55 59.70 Q506.70 59.70 506.70 60.85 L506.70 62.75 Q506.70 63.90 507.85 63.90 L509.00 63.90 L507.85 63.90 Q506.70 63.90 506.70 65.05 L506.70 66.95 Q506.70 68.10 505.55 68.10 L504.40 68.10" fill="none" stroke="#3a3a3a" stroke-width="1.00" stroke-linecap="round"/>
<text x="511.80" y="66.38">BadDiffusion [59]</text>
<path d="M487.00 38.30H567.00" fill="none" stroke="#555" stroke-width="0.65" stroke-dasharray="0.9 1.4"/>
<path d="M566.40 38.00 L567.20 38.00 Q569.40 38.00 569.40 40.20 L569.40 50.35 Q569.40 52.00 571.05 52.00 L572.40 52.00 L571.05 52.00 Q569.40 52.00 569.40 53.65 L569.40 64.20 Q569.40 66.40 567.20 66.40 L566.40 66.40" fill="none" stroke="#3a3a3a" stroke-width="0.80" stroke-linecap="round"/>
<text x="573.80" y="54.68">TrojDiff [62]</text>
<text x="369.30" y="91.28" text-anchor="middle" fill="#454545">Conditional</text>
<text x="369.30" y="98.78" text-anchor="middle" fill="#454545">Model</text>
<text x="369.30" y="109.48" text-anchor="middle">(<tspan font-weight="700">III. A2</tspan>)</text>
<text x="411.80" y="83.38">Object Replacement</text>
<text x="411.80" y="95.58">Prompt Misleading</text>
<text x="411.80" y="107.08">Copyright Infringement</text>
<path d="M479.00 76.70 L480.15 76.70 Q481.30 76.70 481.30 77.85 L481.30 79.75 Q481.30 80.90 482.45 80.90 L483.60 80.90 L482.45 80.90 Q481.30 80.90 481.30 82.05 L481.30 83.95 Q481.30 85.10 480.15 85.10 L479.00 85.10" fill="none" stroke="#3a3a3a" stroke-width="1.00" stroke-linecap="round"/>
<text x="487.60" y="83.68">BadT2I [66]</text>
<path d="M473.70 88.90 L474.85 88.90 Q476.00 88.90 476.00 90.05 L476.00 91.95 Q476.00 93.10 477.15 93.10 L478.30 93.10 L477.15 93.10 Q476.00 93.10 476.00 94.25 L476.00 96.15 Q476.00 97.30 474.85 97.30 L473.70 97.30" fill="none" stroke="#3a3a3a" stroke-width="1.00" stroke-linecap="round"/>
<text x="483.00" y="95.58">RickRolling [61], BiBadDiff [65]</text>
<path d="M485.60 100.40 L486.75 100.40 Q487.90 100.40 487.90 101.55 L487.90 103.45 Q487.90 104.60 489.05 104.60 L490.20 104.60 L489.05 104.60 Q487.90 104.60 487.90 105.75 L487.90 107.65 Q487.90 108.80 486.75 108.80 L485.60 108.80" fill="none" stroke="#3a3a3a" stroke-width="1.00" stroke-linecap="round"/>
<text x="494.20" y="107.08">SBD [64]</text>
<path d="M576.00 60.50 L577.20 60.50 Q579.40 60.50 579.40 62.70 L579.40 83.53 Q579.40 85.40 581.27 85.40 L582.80 85.40 L581.27 85.40 Q579.40 85.40 579.40 87.27 L579.40 108.20 Q579.40 110.40 577.20 110.40 L576.00 110.40" fill="none" stroke="#3a3a3a" stroke-width="0.80" stroke-linecap="round"/>
<path d="M494.00 110.40H576.00" fill="none" stroke="#555" stroke-width="0.65" stroke-dasharray="0.9 1.4"/>
<text x="605.00" y="80.68" text-anchor="middle">VillanDiffusion</text>
<text x="605.00" y="88.18" text-anchor="middle">[63]</text>
<text x="373.30" y="132.98" text-anchor="middle" fill="#454545">Personalized</text>
<text x="373.30" y="140.88" text-anchor="middle" fill="#454545">Methods</text>
<text x="370.00" y="150.88" text-anchor="middle">(<tspan font-weight="700">III. A3</tspan>)</text>
<text x="428.40" y="125.48">DreamBooth-Based Backdoor</text>
<text x="428.40" y="137.08">Textual-Inversion-Based Bakdoor</text>
<text x="428.40" y="148.78">Dataset Poisoning</text>
<path d="M533.40 120.00 L534.00 120.00 Q536.20 120.00 536.20 122.20 L536.20 127.06 Q536.20 128.60 537.74 128.60 L539.00 128.60 L537.74 128.60 Q536.20 128.60 536.20 130.14 L536.20 135.00 Q536.20 137.20 534.00 137.20 L533.40 137.20" fill="none" stroke="#3a3a3a" stroke-width="0.80" stroke-linecap="round"/>
<text x="542.00" y="131.28">PaaS [60]</text>
<path d="M488.90 142.10 L490.05 142.10 Q491.20 142.10 491.20 143.25 L491.20 145.15 Q491.20 146.30 492.35 146.30 L493.50 146.30 L492.35 146.30 Q491.20 146.30 491.20 147.45 L491.20 149.35 Q491.20 150.50 490.05 150.50 L488.90 150.50" fill="none" stroke="#3a3a3a" stroke-width="1.00" stroke-linecap="round"/>
<text x="498.00" y="148.78">BAGM [58]</text>
<text x="369.50" y="181.08" text-anchor="middle" fill="#454545">Perturb</text>
<text x="369.50" y="189.28" text-anchor="middle" fill="#454545">Input Image</text>
<text x="370.60" y="199.48" text-anchor="middle">(<tspan font-weight="700">III. B1</tspan>)</text>
<text x="423.00" y="169.48">Shift embedding towards "bad" target</text>
<text x="423.00" y="180.78">Shift image towards "bad" target</text>
<text x="423.00" y="192.48">Shift image away from self distribution</text>
<text x="423.00" y="203.78">Noise maximizing</text>
<path d="M538.00 163.30H571.00" fill="none" stroke="#555" stroke-width="0.65" stroke-dasharray="0.9 1.4"/>
<path d="M570.00 163.00 L570.80 163.00 Q573.00 163.00 573.00 165.20 L573.00 170.55 Q573.00 172.20 574.65 172.20 L576.00 172.20 L574.65 172.20 Q573.00 172.20 573.00 173.85 L573.00 180.40 Q573.00 182.60 570.80 182.60 L570.00 182.60" fill="none" stroke="#3a3a3a" stroke-width="0.80" stroke-linecap="round"/>
<text x="579.20" y="174.98">PhotoGuard [68]</text>
<path d="M525.90 174.10 L527.05 174.10 Q528.20 174.10 528.20 175.25 L528.20 177.15 Q528.20 178.30 529.35 178.30 L530.50 178.30 L529.35 178.30 Q528.20 178.30 528.20 179.45 L528.20 181.35 Q528.20 182.50 527.05 182.50 L525.90 182.50" fill="none" stroke="#3a3a3a" stroke-width="1.00" stroke-linecap="round"/>
<text x="535.00" y="180.68">Glaze [71]</text>
<path d="M542.70 185.80 L543.85 185.80 Q545.00 185.80 545.00 186.95 L545.00 188.85 Q545.00 190.00 546.15 190.00 L547.30 190.00 L546.15 190.00 Q545.00 190.00 545.00 191.15 L545.00 193.05 Q545.00 194.20 543.85 194.20 L542.70 194.20" fill="none" stroke="#3a3a3a" stroke-width="1.00" stroke-linecap="round"/>
<text x="550.80" y="192.48">LDM-Robustness [72]</text>
<path d="M480.20 197.10 L481.35 197.10 Q482.50 197.10 482.50 198.25 L482.50 200.15 Q482.50 201.30 483.65 201.30 L484.80 201.30 L483.65 201.30 Q482.50 201.30 482.50 202.45 L482.50 204.35 Q482.50 205.50 481.35 205.50 L480.20 205.50" fill="none" stroke="#3a3a3a" stroke-width="1.00" stroke-linecap="round"/>
<text x="488.00" y="203.78">MFA [70]</text>
<text x="369.50" y="231.28" text-anchor="middle" fill="#454545">Perturb Text</text>
<text x="369.50" y="239.98" text-anchor="middle" fill="#454545">Prompt</text>
<text x="369.50" y="249.28" text-anchor="middle">(<tspan font-weight="700">III. B2</tspan>)</text>
<text x="418.80" y="223.48">Quality Diminishing</text>
<text x="418.80" y="234.98">Content Shift</text>
<text x="418.80" y="246.48">NSFW Content Generation</text>
<text x="418.80" y="257.98">Counter Machine Unlearning</text>
<path d="M481.00 216.80 L482.15 216.80 Q483.30 216.80 483.30 217.95 L483.30 219.85 Q483.30 221.00 484.45 221.00 L485.60 221.00 L484.45 221.00 Q483.30 221.00 483.30 222.15 L483.30 224.05 Q483.30 225.20 482.15 225.20 L481.00 225.20" fill="none" stroke="#3a3a3a" stroke-width="1.00" stroke-linecap="round"/>
<text x="488.80" y="223.28">QueryFreeAdv [75], CharGrad [80]</text>
<path d="M462.80 228.30 L463.95 228.30 Q465.10 228.30 465.10 229.45 L465.10 231.35 Q465.10 232.50 466.25 232.50 L467.40 232.50 L466.25 232.50 Q465.10 232.50 465.10 233.65 L465.10 235.55 Q465.10 236.70 463.95 236.70 L462.80 236.70" fill="none" stroke="#3a3a3a" stroke-width="1.00" stroke-linecap="round"/>
<text x="471.60" y="234.98">TargetedAdv [77], SAGE [78], RIATIG [79]</text>
<path d="M503.60 239.80 L504.75 239.80 Q505.90 239.80 505.90 240.95 L505.90 242.85 Q505.90 244.00 507.05 244.00 L508.20 244.00 L507.05 244.00 Q505.90 244.00 505.90 245.15 L505.90 247.05 Q505.90 248.20 504.75 248.20 L503.60 248.20" fill="none" stroke="#3a3a3a" stroke-width="1.00" stroke-linecap="round"/>
<text x="510.50" y="246.48">MMA-Diffusion [73], SneakyPrompt [83]</text>
<path d="M510.40 251.30 L511.55 251.30 Q512.70 251.30 512.70 252.45 L512.70 254.35 Q512.70 255.50 513.85 255.50 L515.00 255.50 L513.85 255.50 Q512.70 255.50 512.70 256.65 L512.70 258.55 Q512.70 259.70 511.55 259.70 L510.40 259.70" fill="none" stroke="#3a3a3a" stroke-width="1.00" stroke-linecap="round"/>
<text x="518.80" y="257.98">UnlearnDiffAtk [81]</text>
<text x="375.50" y="285.08" text-anchor="middle" fill="#454545">Perturb Fine-</text>
<text x="375.50" y="294.28" text-anchor="middle" fill="#454545">Tuning Images</text>
<text x="370.00" y="304.28" text-anchor="middle">(<tspan font-weight="700">III. B3</tspan>)</text>
<text x="441.80" y="277.98">Attack DreamBooth</text>
<text x="441.80" y="289.98">Attack Textual Inversion</text>
<text x="441.80" y="301.08">Watermarks Embedding</text>
<path d="M506.00 271.30 L507.15 271.30 Q508.30 271.30 508.30 272.45 L508.30 274.35 Q508.30 275.50 509.45 275.50 L510.60 275.50 L509.45 275.50 Q508.30 275.50 508.30 276.65 L508.30 278.55 Q508.30 279.70 507.15 279.70 L506.00 279.70" fill="none" stroke="#3a3a3a" stroke-width="1.00" stroke-linecap="round"/>
<text x="515.00" y="277.98">Anti-DreamBooth [69]</text>
<path d="M515.50 290.30H584.50" fill="none" stroke="#555" stroke-width="0.65" stroke-dasharray="0.9 1.4"/>
<path d="M583.60 272.50 L584.40 272.50 Q586.60 272.50 586.60 274.70 L586.60 279.70 Q586.60 281.35 588.25 281.35 L589.60 281.35 L588.25 281.35 Q586.60 281.35 586.60 283.00 L586.60 288.00 Q586.60 290.20 584.40 290.20 L583.60 290.20" fill="none" stroke="#3a3a3a" stroke-width="0.80" stroke-linecap="round"/>
<text x="592.50" y="282.68">AdvDM [82],</text>
<text x="592.50" y="290.28">Mist [83]</text>
<path d="M519.20 294.40 L520.35 294.40 Q521.50 294.40 521.50 295.55 L521.50 297.45 Q521.50 298.60 522.65 298.60 L523.80 298.60 L522.65 298.60 Q521.50 298.60 521.50 299.75 L521.50 301.65 Q521.50 302.80 520.35 302.80 L519.20 302.80" fill="none" stroke="#3a3a3a" stroke-width="1.00" stroke-linecap="round"/>
<text x="527.50" y="301.28">WatermarkAdv [84]</text>
<text x="372.50" y="326.28" text-anchor="middle" fill="#454545">White-Box</text>
<text x="372.50" y="334.68" text-anchor="middle" fill="#454545">Attack</text>
<text x="372.50" y="344.48" text-anchor="middle">(<tspan font-weight="700">III. C1</tspan>)</text>
<text x="422.50" y="322.98" text-anchor="middle">Extract</text>
<text x="422.50" y="330.78" text-anchor="middle">generated</text>
<text x="422.50" y="338.08" text-anchor="middle">images</text>
<text x="466.30" y="319.28">Binary Classifier-Based</text>
<text x="466.30" y="330.78">Threshold-based</text>
<text x="466.30" y="341.78">Likelihood Ratio-Based</text>
<path d="M540.90 312.60 L542.05 312.60 Q543.20 312.60 543.20 313.75 L543.20 315.65 Q543.20 316.80 544.35 316.80 L545.50 316.80 L544.35 316.80 Q543.20 316.80 543.20 317.95 L543.20 319.85 Q543.20 321.00 542.05 321.00 L540.90 321.00" fill="none" stroke="#3a3a3a" stroke-width="1.00" stroke-linecap="round"/>
<text x="548.30" y="319.28">[114], [115], [117]</text>
<path d="M540.00 341.80H602.50" fill="none" stroke="#555" stroke-width="0.65" stroke-dasharray="0.9 1.4"/>
<path d="M603.20 312.80 L603.80 312.80 Q606.00 312.80 606.00 315.00 L606.00 325.71 Q606.00 327.25 607.54 327.25 L608.80 327.25 L607.54 327.25 Q606.00 327.25 606.00 328.79 L606.00 339.50 Q606.00 341.70 603.80 341.70 L603.20 341.70" fill="none" stroke="#3a3a3a" stroke-width="0.80" stroke-linecap="round"/>
<text x="611.00" y="329.98">[116]</text>
<text x="372.50" y="374.48" text-anchor="middle" fill="#454545">Black-Box</text>
<text x="372.50" y="382.88" text-anchor="middle" fill="#454545">Attack</text>
<text x="372.50" y="392.48" text-anchor="middle">(<tspan font-weight="700">III. C2</tspan>)</text>
<text x="418.80" y="364.98">Extract posterior</text>
<text x="420.30" y="372.58">estimation error</text>
<text x="496.80" y="357.48">Binary Classifier-Based</text>
<text x="496.80" y="368.78">Threshold-based</text>
<text x="496.80" y="380.48">Quantile Regression-Based</text>
<path d="M552.00 362.10 L553.15 362.10 Q554.30 362.10 554.30 363.25 L554.30 365.15 Q554.30 366.30 555.45 366.30 L556.60 366.30 L555.45 366.30 Q554.30 366.30 554.30 367.45 L554.30 369.35 Q554.30 370.50 553.15 370.50 L552.00 370.50" fill="none" stroke="#3a3a3a" stroke-width="1.00" stroke-linecap="round"/>
<text x="560.00" y="368.78">[112]</text>
<path d="M578.20 350.80 L578.80 350.80 Q581.00 350.80 581.00 353.00 L581.00 359.46 Q581.00 361.00 582.54 361.00 L583.80 361.00 L582.54 361.00 Q581.00 361.00 581.00 362.54 L581.00 369.00 Q581.00 371.20 578.80 371.20 L578.20 371.20" fill="none" stroke="#3a3a3a" stroke-width="0.80" stroke-linecap="round"/>
<text x="586.80" y="363.08">[110]</text>
<path d="M583.90 373.80 L585.05 373.80 Q586.20 373.80 586.20 374.95 L586.20 376.85 Q586.20 378.00 587.35 378.00 L588.50 378.00 L587.35 378.00 Q586.20 378.00 586.20 379.15 L586.20 381.05 Q586.20 382.20 585.05 382.20 L583.90 382.20" fill="none" stroke="#3a3a3a" stroke-width="1.00" stroke-linecap="round"/>
<text x="591.30" y="380.58">[111]</text>
<text x="420.80" y="398.78">Extract likelihood</text>
<text x="500.80" y="398.78">Binary Classifier-Based</text>
<text x="501.90" y="409.38">Threshold-based</text>
<path d="M575.20 391.70 L575.80 391.70 Q578.00 391.70 578.00 393.90 L578.00 399.91 Q578.00 401.45 579.54 401.45 L580.80 401.45 L579.54 401.45 Q578.00 401.45 578.00 402.99 L578.00 409.00 Q578.00 411.20 575.80 411.20 L575.20 411.20" fill="none" stroke="#3a3a3a" stroke-width="0.80" stroke-linecap="round"/>
<text x="584.40" y="404.68">[113]</text>
<text x="371.30" y="439.98" text-anchor="middle" fill="#454545">Gray-Box</text>
<text x="371.30" y="447.98" text-anchor="middle" fill="#454545">Attack</text>
<text x="371.30" y="456.28" text-anchor="middle">(<tspan font-weight="700">III. C3</tspan>)</text>
<text x="409.90" y="425.48">Extract Model's Gradient</text>
<text x="409.90" y="443.78">Extract Model's Loss</text>
<text x="410.30" y="463.48">Extract Likelihood</text>
<text x="505.00" y="425.48">Binary Classifier-Based</text>
<path d="M579.80 418.80 L580.95 418.80 Q582.10 418.80 582.10 419.95 L582.10 421.85 Q582.10 423.00 583.25 423.00 L584.40 423.00 L583.25 423.00 Q582.10 423.00 582.10 424.15 L582.10 426.05 Q582.10 427.20 580.95 427.20 L579.80 427.20" fill="none" stroke="#3a3a3a" stroke-width="1.00" stroke-linecap="round"/>
<text x="587.50" y="425.48">[118]</text>
<text x="503.40" y="438.48">Threshold-based</text>
<path d="M558.30 431.80 L559.45 431.80 Q560.60 431.80 560.60 432.95 L560.60 434.85 Q560.60 436.00 561.75 436.00 L562.90 436.00 L561.75 436.00 Q560.60 436.00 560.60 437.15 L560.60 439.05 Q560.60 440.20 559.45 440.20 L558.30 440.20" fill="none" stroke="#3a3a3a" stroke-width="1.00" stroke-linecap="round"/>
<text x="566.00" y="438.48">[114], [116], [117]</text>
<text x="503.40" y="449.98">Likelihood Ratio-Based</text>
<path d="M577.20 443.30 L578.35 443.30 Q579.50 443.30 579.50 444.45 L579.50 446.35 Q579.50 447.50 580.65 447.50 L581.80 447.50 L580.65 447.50 Q579.50 447.50 579.50 448.65 L579.50 450.55 Q579.50 451.70 578.35 451.70 L577.20 451.70" fill="none" stroke="#3a3a3a" stroke-width="1.00" stroke-linecap="round"/>
<text x="584.70" y="449.98">[115]</text>
<text x="484.40" y="463.48">Threshold-based</text>
<path d="M539.40 456.80 L540.55 456.80 Q541.70 456.80 541.70 457.95 L541.70 459.85 Q541.70 461.00 542.85 461.00 L544.00 461.00 L542.85 461.00 Q541.70 461.00 541.70 462.15 L541.70 464.05 Q541.70 465.20 540.55 465.20 L539.40 465.20" fill="none" stroke="#3a3a3a" stroke-width="1.00" stroke-linecap="round"/>
<text x="547.20" y="463.48">114</text>
<text y="490.0" font-family="'Liberation Serif', 'DejaVu Serif', serif" font-size="12.6" fill="#222"><tspan x="127.7" textLength="114.5" lengthAdjust="spacing">Fig. 3: A taxonomy of</tspan> <tspan x="245.5" textLength="262.5" lengthAdjust="spacing">representative attack and defense methods for DMs.</tspan></text>
</svg>
</body></html>
